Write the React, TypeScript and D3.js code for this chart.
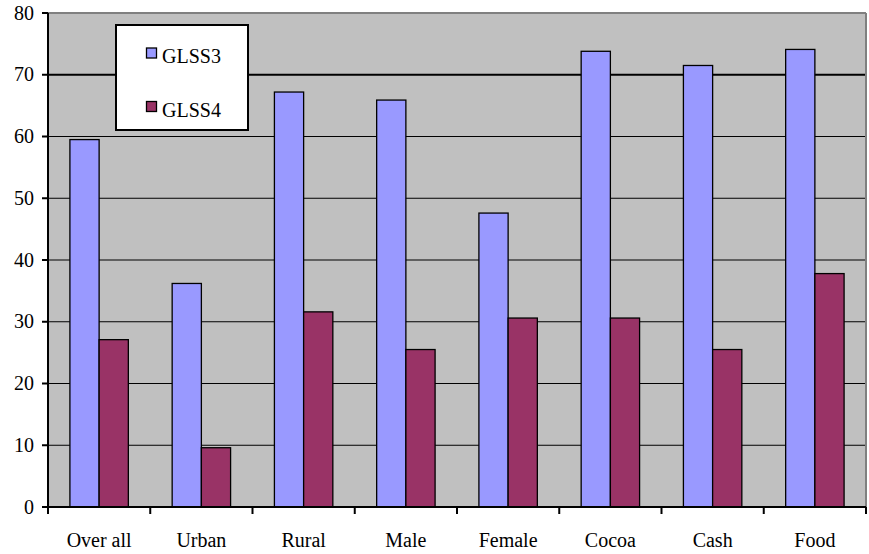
import React from "react";
import * as d3 from "d3";

const categories = ["Over all", "Urban", "Rural", "Male", "Female", "Cocoa", "Cash", "Food"];
const seriesNames = ["GLSS3", "GLSS4"];
const glss3 = [59.5, 36.2, 67.2, 65.9, 47.6, 73.8, 71.5, 74.1];
const glss4 = [27.1, 9.6, 31.6, 25.5, 30.6, 30.6, 25.5, 37.8];
const yTicks = [0, 10, 20, 30, 40, 50, 60, 70, 80];

const W = 869;
const H = 554;
const M = { left: 48, right: 3, top: 13, bottom: 47 };
const colors = ["#9999FF", "#993366"];
const font = "Liberation Serif, Times New Roman, DejaVu Serif, serif";

export default function App() {
  const x = d3
    .scaleBand<string>()
    .domain(categories)
    .range([M.left, W - M.right]);
  const y = d3.scaleLinear().domain([0, 80]).range([H - M.bottom, M.top]);
  const step = x.bandwidth();
  const barW = step / 3.5;
  const inner = d3
    .scaleBand<number>()
    .domain([0, 1])
    .range([0.75 * barW, 0.75 * barW + 2 * barW]);

  const series = [glss3, glss4];
  const x0 = M.left;
  const x1 = W - M.right;
  const yb = y(0);
  const yt = y(80);
  const textStyle = { fontFamily: font, fontSize: 20, fill: "#000" };

  return (
    <div style={{ position: "absolute", left: 0, top: 0 }}>
      <svg width={W} height={H} style={{ display: "block", background: "#fff" }}>
        <rect x={x0} y={yt} width={x1 - x0} height={yb - yt} fill="#C0C0C0" />
        {yTicks.slice(1).map((t) => (
          <line
            key={"g" + t}
            x1={x0}
            x2={x1}
            y1={y(t)}
            y2={y(t)}
            stroke="#000"
            strokeWidth={t === 70 ? 2 : 1}
          />
        ))}
        {/* plot frame top/right */}
        <line x1={x0} x2={x1} y1={yt} y2={yt} stroke="#808080" strokeWidth={2} />
        <line x1={x1} x2={x1} y1={yt} y2={yb} stroke="#808080" strokeWidth={2} />

        {categories.map((c, i) =>
          series.map((s, k) => (
            <rect
              key={c + k}
              x={(x(c) as number) + (inner(k) as number)}
              y={y(s[i])}
              width={inner.bandwidth()}
              height={yb - y(s[i])}
              fill={colors[k]}
              stroke="#000"
              strokeWidth={1.3}
            />
          ))
        )}

        {/* axes */}
        <line x1={x0} x2={x0} y1={yt} y2={yb} stroke="#000" strokeWidth={2} />
        <line x1={x0 - 6} x2={x1} y1={yb} y2={yb} stroke="#000" strokeWidth={2} />
        {yTicks.map((t) => (
          <g key={"t" + t}>
            <line x1={x0 - 6} x2={x0} y1={y(t)} y2={y(t)} stroke="#000" strokeWidth={2} />
            <text x={x0 - 14} y={y(t)} dy="0.33em" textAnchor="end" style={textStyle}>
              {t}
            </text>
          </g>
        ))}
        {categories.map((c) => (
          <g key={"x" + c}>
            <line
              x1={x(c) as number}
              x2={x(c) as number}
              y1={yb}
              y2={yb + 7}
              stroke="#000"
              strokeWidth={2}
            />
            <text
              x={(x(c) as number) + step / 2}
              y={yb + 40}
              textAnchor="middle"
              style={textStyle}
            >
              {c}
            </text>
          </g>
        ))}
        <line x1={x1} x2={x1} y1={yb} y2={yb + 7} stroke="#000" strokeWidth={2} />

        {/* legend */}
        <rect x={116} y={25} width={132} height={105} fill="#fff" stroke="#000" strokeWidth={2} />
        {seriesNames.map((n, k) => (
          <g key={n}>
            <rect
              x={146.5}
              y={48 + k * 53.5}
              width={10}
              height={10}
              fill={colors[k]}
              stroke="#000"
              strokeWidth={1.3}
            />
            <text x={162} y={63 + k * 53.5} style={textStyle}>
              {n}
            </text>
          </g>
        ))}
      </svg>
    </div>
  );
}
